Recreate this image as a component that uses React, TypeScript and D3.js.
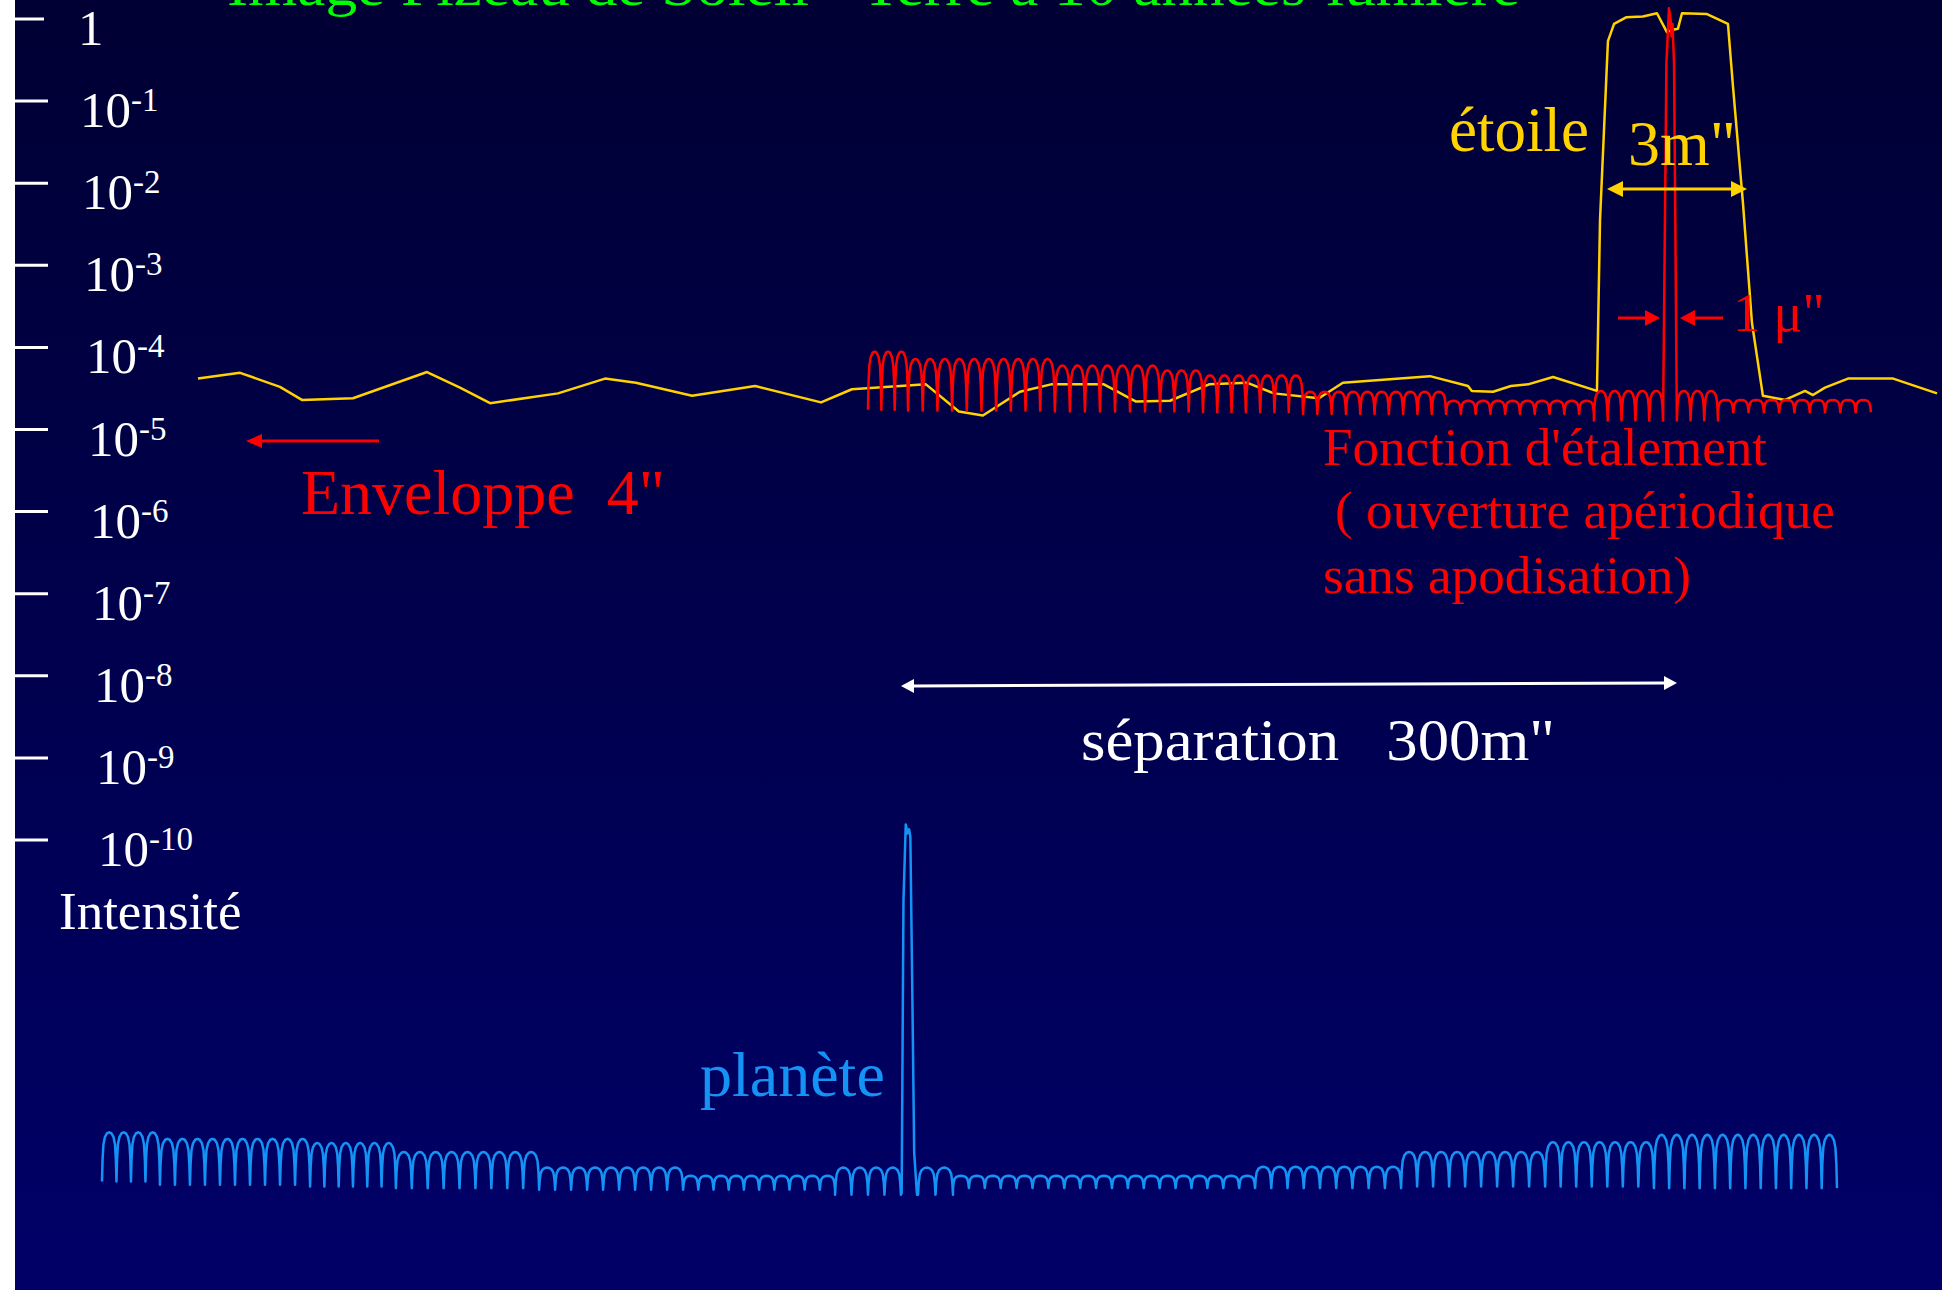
import React from 'react';
import * as d3 from 'd3';

const W = 1942;
const H = 1290;

// Intensity axis decades (log10)
const TICK_EXPONENTS = [0, -1, -2, -3, -4, -5, -6, -7, -8, -9, -10];

// Yellow: star image seen through the envelope (x in milli-arcsec, y in log10 intensity)
const ENV_X = [-276.9, -260.4, -244.8, -236.2, -216.2, -187.2, -174.3, -162.5, -135.9, -117.5, -105.4, -83.4, -58.7, -32.9, -20.8, 8.2, 21.1, 30.5, 45.0, 57.2, 77.9, 90.5, 103.8, 119.1, 133.9, 144.5, 162.1, 171.5, 205.6, 220.5, 222.0, 230.3, 237.3, 244.0, 253.8, 271.0, 272.2, 275.3, 277.7, 282.4, 289.0, 294.5, 298.4, 300.8, 302.7, 304.3, 314.1, 322.3, 324.3, 328.2, 331.7, 336.0, 344.7, 352.5, 355.6, 360.3, 369.3, 387.0, 404.2];
const ENV_Y = [-4.38, -4.31, -4.48, -4.64, -4.62, -4.30, -4.49, -4.68, -4.56, -4.38, -4.43, -4.59, -4.47, -4.67, -4.51, -4.45, -4.78, -4.83, -4.54, -4.45, -4.45, -4.66, -4.65, -4.45, -4.43, -4.56, -4.62, -4.43, -4.35, -4.47, -4.53, -4.54, -4.47, -4.45, -4.36, -4.53, -2.45, -0.27, -0.06, 0.02, 0.03, 0.07, -0.16, -0.13, -0.12, 0.07, 0.06, -0.06, -0.83, -2.25, -3.70, -4.59, -4.64, -4.53, -4.58, -4.49, -4.38, -4.38, -4.56];

// Red: spread function of the star (fringe segments: from/to mas, lobe count, lobe top, dip)
const PSF_LEFT = [
  { from: -14.5, to: 1.2, lobes: 3, top: -4.05, dip: -4.76 },
  { from: 1.2, to: 58.7, lobes: 10, top: -4.14, dip: -4.77 },
  { from: 58.7, to: 99.9, lobes: 7, top: -4.22, dip: -4.78 },
  { from: 99.9, to: 116.7, lobes: 3, top: -4.28, dip: -4.78 },
  { from: 116.7, to: 155.9, lobes: 7, top: -4.34, dip: -4.79 },
  { from: 155.9, to: 211.9, lobes: 10, top: -4.54, dip: -4.81 },
  { from: 211.9, to: 269.8, lobes: 10, top: -4.65, dip: -4.81 },
  { from: 269.8, to: 296.9, lobes: 5, top: -4.53, dip: -4.89 },
];
const PSF_SPIKE_X = [296.9, 298.2, 299.2, 299.8, 300.2, 300.6, 301.2, 302.3];
const PSF_SPIKE_Y = [-4.87, -0.55, 0.13, 0.01, -0.21, -0.06, -0.55, -4.89];
const PSF_RIGHT = [
  { from: 302.3, to: 318.4, lobes: 3, top: -4.53, dip: -4.89 },
  { from: 318.4, to: 378.3, lobes: 10, top: -4.64, dip: -4.79 },
];

// Blue: planet image
const PLANET_LEFT = [
  { from: -314.5, to: -291.8, lobes: 4, top: -13.56, dip: -14.16 },
  { from: -291.8, to: -233.0, lobes: 10, top: -13.64, dip: -14.2 },
  { from: -233.0, to: -199.4, lobes: 6, top: -13.69, dip: -14.22 },
  { from: -199.4, to: -143.3, lobes: 9, top: -13.8, dip: -14.24 },
  { from: -143.3, to: -86.9, lobes: 9, top: -13.99, dip: -14.26 },
  { from: -86.9, to: -27.4, lobes: 10, top: -14.09, dip: -14.26 },
  { from: -27.4, to: -1.6, lobes: 4, top: -13.99, dip: -14.32 },
];
const PLANET_SPIKE_X = [-1.3, -0.6, 0.3, 1.0, 1.6, 2.1, 2.9, 3.6, 4.7];
const PLANET_SPIKE_Y = [-14.3, -10.74, -9.81, -9.92, -9.87, -9.96, -11.95, -13.81, -14.32];
const PLANET_RIGHT = [
  { from: 5.1, to: 18.8, lobes: 2, top: -13.99, dip: -14.32 },
  { from: 18.8, to: 137.1, lobes: 19, top: -14.09, dip: -14.24 },
  { from: 137.1, to: 194.3, lobes: 9, top: -13.98, dip: -14.24 },
  { from: 194.3, to: 250.7, lobes: 9, top: -13.8, dip: -14.22 },
  { from: 250.7, to: 293.3, lobes: 7, top: -13.68, dip: -14.22 },
  { from: 293.3, to: 365.0, lobes: 12, top: -13.59, dip: -14.24 },
];

// shape of one fringe lobe (fraction of lobe width, fraction from dip to top)
const LOBE_SHAPE: [number, number][] = [
  [0, 0], [0.04, 0.45], [0.1, 0.75], [0.2, 0.9], [0.35, 0.98], [0.5, 1],
  [0.65, 0.98], [0.8, 0.9], [0.9, 0.75], [0.96, 0.45], [1, 0],
];

type Seg = { from: number; to: number; lobes: number; top: number; dip: number };

function fringe(segs: Seg[]): [number, number][] {
  const pts: [number, number][] = [];
  segs.forEach((s) => {
    const w = (s.to - s.from) / s.lobes;
    for (let i = 0; i < s.lobes; i++) {
      LOBE_SHAPE.forEach(([t, f]) => {
        pts.push([s.from + (i + t) * w, s.dip + f * (s.top - s.dip)]);
      });
    }
  });
  return pts;
}

const zip = (xs: number[], ys: number[]): [number, number][] => xs.map((x, i) => [x, ys[i]]);

const xScale = d3.scaleLinear().domain([0, 300]).range([905, 1671]);
const yScale = d3.scaleLinear().domain([0, -10]).range([19, 840]);

const line = d3
  .line<[number, number]>()
  .x((d) => xScale(d[0]))
  .y((d) => yScale(d[1]));

const SERIF = "'Liberation Serif', 'Times New Roman', serif";

const RED = '#FF0000';
const YELLOW = '#FFD200';
const BLUE = '#1593F5';
const GREEN = '#00FF00';

function Arrow({ x1, y1, x2, y2, color, width = 3, head = 15, half = 7, both = false }: any) {
  const ang = Math.atan2(y2 - y1, x2 - x1);
  const headAt = (x: number, y: number, a: number) => {
    const bx = x - head * Math.cos(a);
    const by = y - head * Math.sin(a);
    const px = -Math.sin(a) * half;
    const py = Math.cos(a) * half;
    return `${x},${y} ${bx + px},${by + py} ${bx - px},${by - py}`;
  };
  const sx = both ? x1 + (head - 2) * Math.cos(ang) : x1;
  const sy = both ? y1 + (head - 2) * Math.sin(ang) : y1;
  const ex = x2 - (head - 2) * Math.cos(ang);
  const ey = y2 - (head - 2) * Math.sin(ang);
  return (
    <g>
      <line x1={sx} y1={sy} x2={ex} y2={ey} stroke={color} strokeWidth={width} />
      <polygon points={headAt(x2, y2, ang)} fill={color} />
      {both && <polygon points={headAt(x1, y1, ang + Math.PI)} fill={color} />}
    </g>
  );
}

export default function App() {
  const envPath = line(zip(ENV_X, ENV_Y)) || '';
  const psfPts = [...fringe(PSF_LEFT), ...zip(PSF_SPIKE_X, PSF_SPIKE_Y), ...fringe(PSF_RIGHT)];
  const psfPath = line(psfPts) || '';
  const planetPts = [...fringe(PLANET_LEFT), ...zip(PLANET_SPIKE_X, PLANET_SPIKE_Y), ...fringe(PLANET_RIGHT)];
  const planetPath = line(planetPts) || '';

  const starX = xScale(300);
  const planetX = xScale(0);

  return (
    <svg
      width={W}
      height={H}
      style={{ position: 'absolute', left: 0, top: 0, display: 'block' }}
      fontFamily={SERIF}
    >
      <defs>
        <linearGradient id="bg" x1="0" y1="0" x2="0" y2="1">
          <stop offset="0" stopColor="#000034" />
          <stop offset="1" stopColor="#000068" />
        </linearGradient>
      </defs>
      <rect x={0} y={0} width={W} height={H} fill="url(#bg)" />
      <rect x={0} y={0} width={15} height={H} fill="#FFFFFF" />

      {/* title (cut at the top, as in the original slide) */}
      <text x={227} y={5} fontSize={58} fill={GREEN} textLength={1293} lengthAdjust="spacingAndGlyphs" style={{ whiteSpace: 'pre' }}>
        Image Fizeau de Soleil  -Terre à 10 années-lumière
      </text>

      {/* axis ticks and labels */}
      {TICK_EXPONENTS.map((e, i) => (
        <g key={e}>
          <line x1={15} x2={e === 0 ? 44 : 48} y1={yScale(e)} y2={yScale(e)} stroke="#FFFFFF" strokeWidth={3} />
          <text x={78 + 2 * i} y={yScale(e) + 26} fill="#FFFFFF" fontSize={51}>
            {e === 0 ? (
              '1'
            ) : (
              <>
                <tspan>10</tspan>
                <tspan dy={-16} fontSize={33}>{`-${-e}`}</tspan>
              </>
            )}
          </text>
        </g>
      ))}
      <text x={59} y={929} fill="#FFFFFF" fontSize={53}>Intensité</text>

      {/* curves */}
      <path d={envPath} fill="none" stroke={YELLOW} strokeWidth={2.5} strokeLinejoin="round" />
      <path d={psfPath} fill="none" stroke={RED} strokeWidth={2.5} strokeLinejoin="round" />
      <path d={planetPath} fill="none" stroke={BLUE} strokeWidth={2.5} strokeLinejoin="round" />

      {/* star annotations */}
      <text x={1449} y={151} fill={YELLOW} fontSize={63}>étoile</text>
      <text x={1628} y={165} fill={YELLOW} fontSize={64}>3m"</text>
      <Arrow x1={starX - 64} y1={189} x2={starX + 76} y2={189} color={YELLOW} width={3} head={16} half={8} both />
      <Arrow x1={starX - 53} y1={318} x2={starX - 11} y2={318} color={RED} width={3} head={15} half={8} />
      <Arrow x1={starX + 52} y1={318} x2={starX + 9} y2={318} color={RED} width={3} head={15} half={8} />
      <text x={1733} y={331} fill={RED} fontSize={54} style={{ whiteSpace: 'pre' }}>1 μ"</text>

      <text x={1323} y={465} fill={RED} fontSize={52} textLength={444} lengthAdjust="spacingAndGlyphs">Fonction d'étalement</text>
      <text x={1335} y={528} fill={RED} fontSize={52} textLength={500} lengthAdjust="spacingAndGlyphs" style={{ whiteSpace: 'pre' }}>( ouverture apériodique</text>
      <text x={1323} y={593} fill={RED} fontSize={52} textLength={368} lengthAdjust="spacingAndGlyphs">sans apodisation)</text>

      {/* envelope annotation */}
      <Arrow x1={379} y1={441} x2={246} y2={441} color={RED} width={3} head={16} half={7} />
      <text x={301} y={514} fill={RED} fontSize={64} style={{ whiteSpace: 'pre' }}>Enveloppe  4"</text>

      {/* separation */}
      <Arrow x1={planetX - 4} y1={686} x2={starX + 6} y2={683} color="#FFFFFF" width={3} head={13} half={7} both />
      <text x={1081} y={760} fill="#FFFFFF" fontSize={60} textLength={474} lengthAdjust="spacingAndGlyphs" style={{ whiteSpace: 'pre' }}>séparation   300m"</text>

      <text x={700} y={1096} fill={BLUE} fontSize={64}>planète</text>
    </svg>
  );
}
